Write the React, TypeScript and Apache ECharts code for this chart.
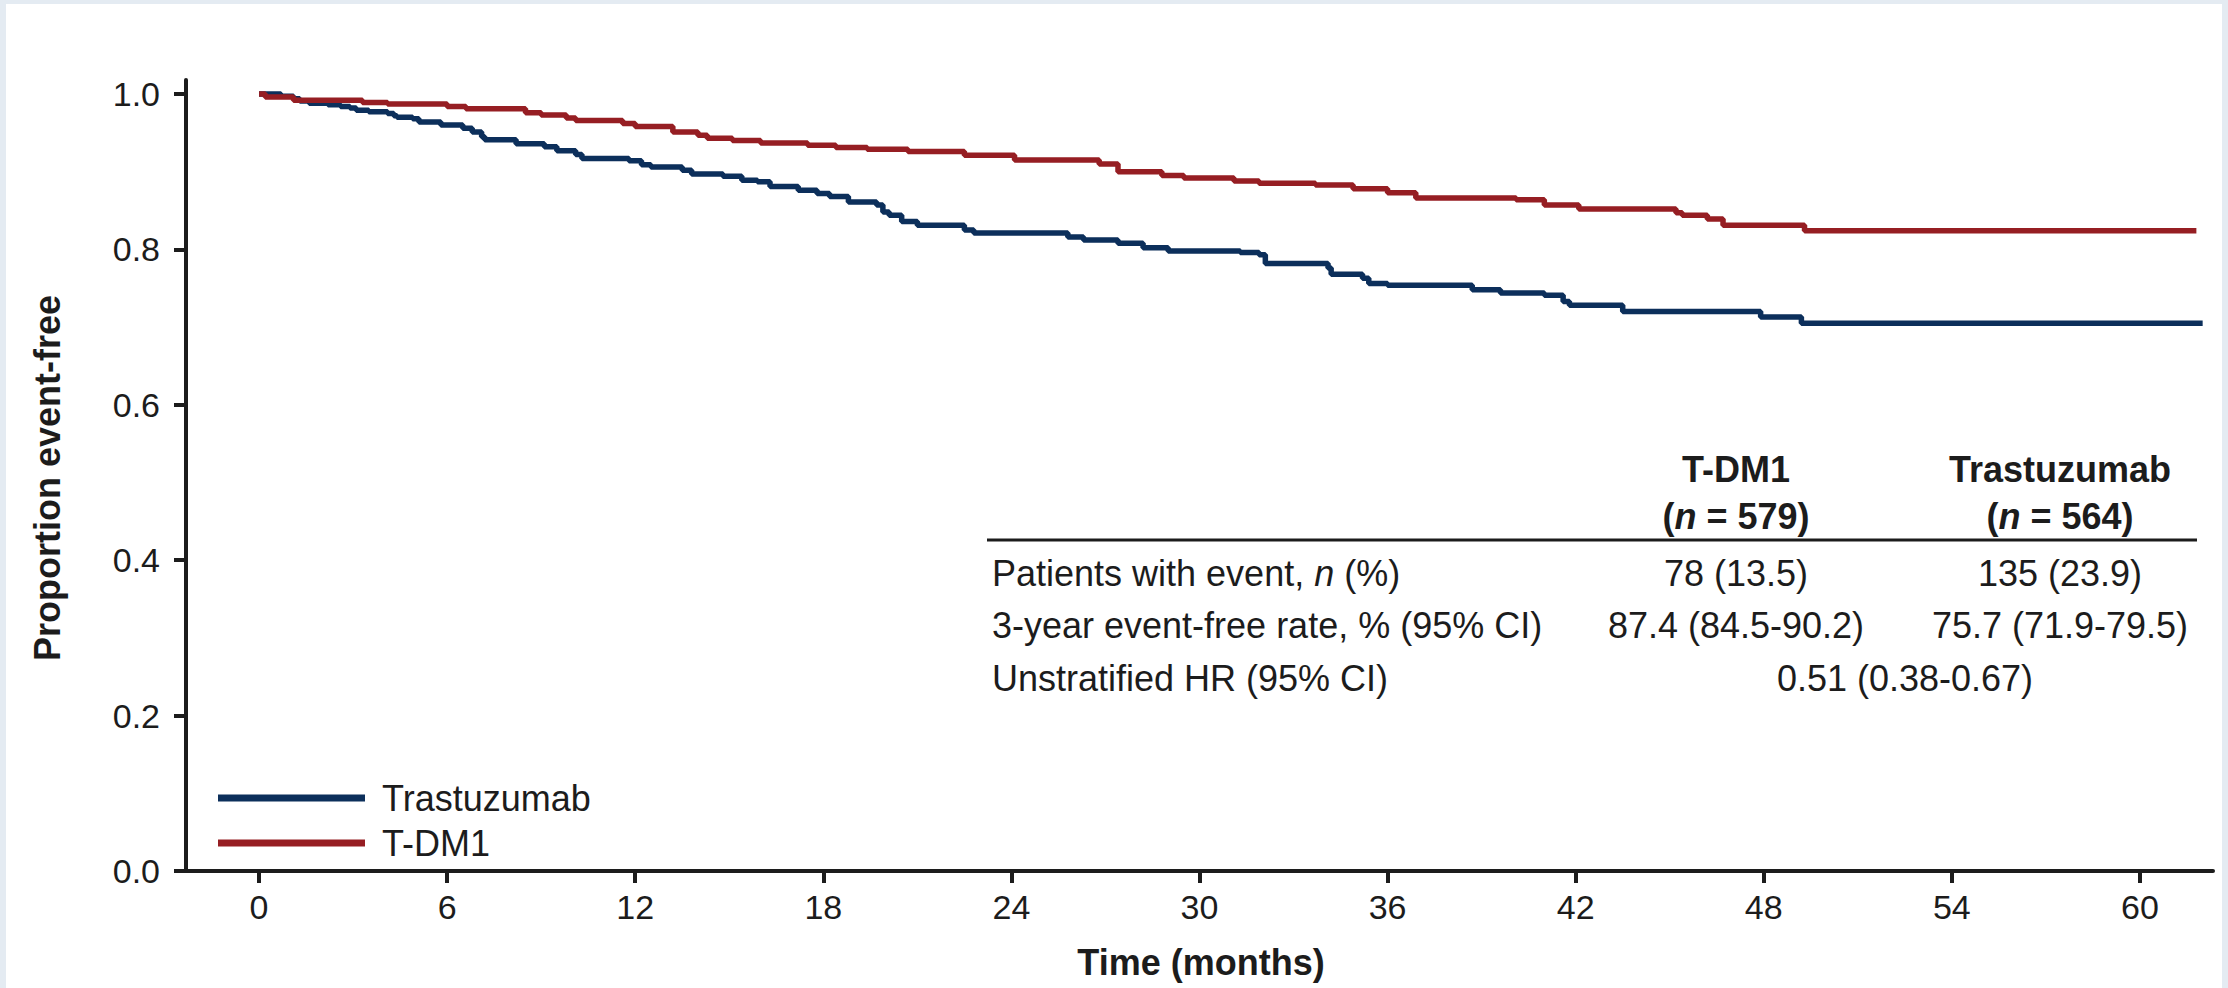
import React, { useEffect, useRef } from "react";
import * as echarts from "echarts";

// ---- Data ----
const tdm1Time = [0, 0.2, 1.1, 3.3, 4.1, 6.0, 6.6, 8.5, 9.0, 9.8, 10.1, 11.6, 12.0, 13.2, 14.0, 14.3, 15.1, 16.0, 17.5, 18.4, 19.4, 20.7, 22.5, 24.1, 26.8, 27.4, 28.8, 29.5, 31.1, 31.9, 33.7, 34.9, 36.0, 36.9, 40.1, 41.0, 42.1, 45.2, 45.4, 46.2, 46.7, 49.3, 61.8];
const tdm1Surv = [1.0, 0.996, 0.992, 0.989, 0.987, 0.984, 0.981, 0.976, 0.973, 0.969, 0.966, 0.962, 0.958, 0.951, 0.947, 0.943, 0.940, 0.937, 0.934, 0.931, 0.929, 0.926, 0.921, 0.915, 0.910, 0.900, 0.895, 0.892, 0.888, 0.885, 0.883, 0.878, 0.873, 0.866, 0.864, 0.857, 0.852, 0.847, 0.844, 0.839, 0.831, 0.824, 0.824];

const trasTime = [0, 0.7, 1.1, 1.3, 1.6, 2.2, 2.6, 2.9, 3.1, 3.5, 4.1, 4.3, 4.4, 4.9, 5.1, 5.8, 6.5, 6.8, 7.1, 7.2, 8.2, 9.1, 9.5, 10.1, 10.3, 11.8, 12.2, 12.5, 13.5, 13.8, 14.8, 15.4, 15.9, 16.3, 17.2, 17.8, 18.2, 18.8, 19.7, 19.9, 20.1, 20.5, 21.0, 22.5, 22.8, 25.8, 26.3, 27.4, 28.2, 29.0, 31.3, 31.9, 32.1, 34.1, 34.2, 35.2, 35.4, 36.0, 38.7, 39.6, 41.0, 41.6, 41.8, 43.5, 47.9, 49.2, 62.0];
const trasSurv = [1.0, 0.997, 0.994, 0.991, 0.988, 0.986, 0.984, 0.982, 0.979, 0.977, 0.975, 0.972, 0.970, 0.968, 0.964, 0.960, 0.956, 0.951, 0.945, 0.941, 0.936, 0.932, 0.927, 0.922, 0.917, 0.914, 0.909, 0.906, 0.902, 0.897, 0.894, 0.889, 0.887, 0.881, 0.876, 0.872, 0.868, 0.861, 0.857, 0.848, 0.844, 0.836, 0.831, 0.825, 0.821, 0.816, 0.812, 0.808, 0.802, 0.798, 0.796, 0.793, 0.782, 0.776, 0.768, 0.763, 0.756, 0.754, 0.748, 0.744, 0.741, 0.733, 0.728, 0.720, 0.713, 0.705, 0.705];

const xTicks = [0, 6, 12, 18, 24, 30, 36, 42, 48, 54, 60];
const yTicks = [0, 0.2, 0.4, 0.6, 0.8, 1.0];

const seriesNames = ["Trastuzumab", "T-DM1"];
const tableHeader = [["T-DM1", "579"], ["Trastuzumab", "564"]];
const tableRows = [
  ["Patients with event, n (%)", "78 (13.5)", "135 (23.9)"],
  ["3-year event-free rate, % (95% CI)", "87.4 (84.5-90.2)", "75.7 (71.9-79.5)"],
  ["Unstratified HR (95% CI)", "0.51 (0.38-0.67)"],
];

const BLUE = "#0c2f5b";
const RED = "#961e23";
const INK = "#1c1c1c";
const FONT = "'Liberation Sans', Arial, Helvetica, sans-serif";
const TS = 36;

function pairs(t: number[], s: number[]) {
  return t.map((v, i) => [v, s[i]]);
}

export default function App() {
  const ref = useRef<HTMLDivElement>(null);
  useEffect(() => {
    document.body.style.margin = "0";
    const chart = echarts.init(ref.current!, null, { renderer: "svg" });
    const txt = (text: string, x: number, y: number, opts: any = {}) => ({
      type: "text",
      x,
      y,
      style: {
        text,
        fill: INK,
        font: `${opts.bold ? "bold " : ""}${opts.size || TS}px ${FONT}`,
        textAlign: opts.align || "left",
        textVerticalAlign: "middle",
      },
      z: 10,
      ...(opts.rotation ? { rotation: opts.rotation } : {}),
    });

    const rowY = [573, 625, 678];
    const colX = [1736, 2060];
    const tableGraphics: any[] = [];
    tableHeader.forEach((h, i) => {
      tableGraphics.push(txt(h[0], colX[i], 469, { bold: true, align: "center" }));
      tableGraphics.push({
        type: "text",
        x: colX[i],
        y: 516,
        z: 10,
        style: {
          text: `{p|(}{i|n}{p| = ${h[1]})}`,
          textAlign: "center",
          textVerticalAlign: "middle",
          rich: {
            p: { font: `bold ${TS}px ${FONT}`, fill: INK },
            i: { font: `italic bold ${TS}px ${FONT}`, fill: INK },
          },
        },
      });
    });
    tableRows.forEach((r, i) => {
      if (i === 0) {
        tableGraphics.push({
          type: "text",
          x: 992,
          y: rowY[i],
          z: 10,
          style: {
            text: "{p|Patients with event, }{i|n}{p| (%)}",
            textAlign: "left",
            textVerticalAlign: "middle",
            rich: {
              p: { font: `${TS}px ${FONT}`, fill: INK },
              i: { font: `italic ${TS}px ${FONT}`, fill: INK },
            },
          },
        });
      } else {
        tableGraphics.push(txt(r[0], 992, rowY[i]));
      }
      if (r.length === 3) {
        tableGraphics.push(txt(r[1], colX[0], rowY[i], { align: "center" }));
        tableGraphics.push(txt(r[2], colX[1], rowY[i], { align: "center" }));
      } else {
        tableGraphics.push(txt(r[1], 1905, rowY[i], { align: "center" }));
      }
    });

    chart.setOption({
      animation: false,
      backgroundColor: "#e4ebf2",
      grid: { left: 186, right: 15, top: 80, bottom: 117, containLabel: false },
      xAxis: {
        type: "value",
        min: -2.33,
        max: 62.33,
        axisLine: { onZero: false, lineStyle: { color: INK, width: 4 } },
        axisTick: { customValues: xTicks, length: 12, lineStyle: { color: INK, width: 4 } },
        axisLabel: { customValues: xTicks, margin: 19, fontSize: 34, color: INK, fontFamily: FONT },
        splitLine: { show: false },
      },
      yAxis: {
        type: "value",
        min: 0,
        max: 1.018,
        axisLine: { show: true, onZero: false, lineStyle: { color: INK, width: 4 } },
        axisTick: { show: true, customValues: yTicks, length: 12, lineStyle: { color: INK, width: 4 } },
        axisLabel: {
          customValues: yTicks,
          margin: 26,
          fontSize: 34,
          color: INK,
          fontFamily: FONT,
          formatter: (v: number) => v.toFixed(1),
        },
        splitLine: { show: false },
      },
      legend: {
        orient: "vertical",
        left: 213,
        top: 774,
        icon: "rect",
        itemWidth: 147,
        itemHeight: 7,
        itemGap: 7,
        data: seriesNames,
        textStyle: { fontSize: 36, color: INK, fontFamily: FONT, lineHeight: 38, padding: [0, 0, 0, 12] },
      },
      series: [
        {
          name: seriesNames[0],
          type: "line",
          step: "end",
          symbol: "none",
          data: pairs(trasTime, trasSurv),
          lineStyle: { color: BLUE, width: 5.5 },
          itemStyle: { color: BLUE },
          z: 3,
        },
        {
          name: seriesNames[1],
          type: "line",
          step: "end",
          symbol: "none",
          data: pairs(tdm1Time, tdm1Surv),
          lineStyle: { color: RED, width: 5.5 },
          itemStyle: { color: RED },
          z: 4,
        },
      ],
      graphic: [
        { type: "rect", shape: { x: 6, y: 4, width: 2216, height: 984 }, style: { fill: "#ffffff" }, z: -10, silent: true },
        txt("Proportion event-free", 47, 478, { bold: true, align: "center", rotation: Math.PI / 2 }),
        txt("Time (months)", 1201, 962, { bold: true, align: "center" }),
        { type: "line", shape: { x1: 987, y1: 540, x2: 2197, y2: 540 }, style: { stroke: INK, lineWidth: 3 }, z: 10 },
        ...tableGraphics,
      ],
    });
    return () => chart.dispose();
  }, []);
  return <div ref={ref} style={{ position: "fixed", left: 0, top: 0, width: 2228, height: 988 }} />;
}
